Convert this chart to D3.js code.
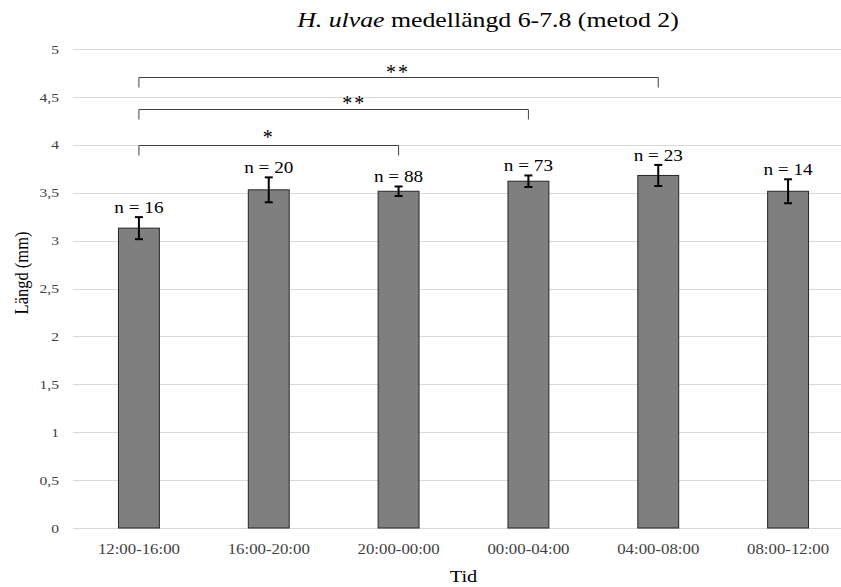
<!DOCTYPE html>
<html>
<head>
<meta charset="utf-8">
<title>H. ulvae medellängd</title>
<script src="https://d3js.org/d3.v7.min.js"></script>
<style>
  body { margin: 0; background: #fff; }
</style>
</head>
<body>
<svg width="841" height="587" id="mainsvg"></svg>
<script>
// data
const categories = ['12:00-16:00', '16:00-20:00', '20:00-00:00', '00:00-04:00', '04:00-08:00', '08:00-12:00'];
const means = [3.13, 3.53, 3.515, 3.62, 3.68, 3.515];
const errors = [0.115, 0.13, 0.05, 0.06, 0.11, 0.125];
const counts = [16, 20, 88, 73, 23, 14];
const yTicks = [0, 0.5, 1, 1.5, 2, 2.5, 3, 3.5, 4, 4.5, 5];
// significance brackets: from / to category index, line height (mm), label, label height (mm), label position along bracket
const brFrom = [0, 0, 0];
const brTo = [2, 3, 4];
const brLevel = [4.0, 4.37, 4.71];
const brLabel = ['*', '**', '**'];
const brLabelLevel = [4.12, 4.48, 4.80];
const brLabelPos = [0.5, 0.55, 0.497];

const FONT = '"Liberation Serif", "Times New Roman", Times, serif';
const SX = 1.2; // the source text is a little wider than it is tall
const svg = d3.select('svg').attr('font-family', FONT);
const margin = {top: 49, left: 74, bottom: 59};
const height = +svg.attr('height');

const x = d3.scaleBand().domain(categories).range([margin.left, 853]).paddingInner(0.685).paddingOuter(0.3425);
const y = d3.scaleLinear().domain([0, 5]).range([height - margin.bottom, margin.top]);

function label(g, px, py, txt, size) {
  return g.append('text')
    .attr('transform', `translate(${px},${py}) scale(${SX},1)`)
    .attr('text-anchor', 'middle').attr('font-size', size).attr('fill', '#000')
    .text(txt);
}

// grid
svg.append('g').selectAll('line').data(yTicks).join('line')
  .attr('x1', 73).attr('x2', 841)
  .attr('y1', d => Math.round(y(d)) + 0.5).attr('y2', d => Math.round(y(d)) + 0.5)
  .attr('stroke', '#d9d9d9').attr('stroke-width', 1);

// y axis labels
const yAxis = d3.axisLeft(y).tickValues(yTicks).tickSize(0).tickPadding(0)
  .tickFormat(d => String(d).replace('.', ','));
const ya = svg.append('g').attr('transform', 'translate(59,0)').call(yAxis).attr('font-family', FONT);
ya.select('.domain').remove();
ya.selectAll('text').attr('font-size', 13).attr('fill', '#404040')
  .attr('transform', `scale(${SX},1)`);

// x axis labels
const xAxis = d3.axisBottom(x).tickSize(0).tickPadding(16);
const xa = svg.append('g').attr('transform', 'translate(0,' + y(0) + ')').call(xAxis).attr('font-family', FONT);
xa.select('.domain').remove();
xa.selectAll('text').attr('font-size', 14).attr('fill', '#404040')
  .attr('transform', `scale(${SX},1)`);

// bars
const rows = categories.map((c, i) => ({cat: c, v: means[i], e: errors[i], n: counts[i]}));
svg.append('g').selectAll('rect').data(rows).join('rect')
  .attr('x', d => x(d.cat)).attr('width', x.bandwidth())
  .attr('y', d => y(d.v)).attr('height', d => y(0) - y(d.v))
  .attr('fill', '#7f7f7f').attr('stroke', '#262626').attr('stroke-width', 1);

// error bars
const eb = svg.append('g').attr('stroke', '#000').attr('stroke-width', 2);
rows.forEach(d => {
  const cx = x(d.cat) + x.bandwidth() / 2;
  eb.append('line').attr('x1', cx).attr('x2', cx).attr('y1', y(d.v + d.e)).attr('y2', y(d.v - d.e));
  eb.append('line').attr('x1', cx - 4).attr('x2', cx + 4).attr('y1', y(d.v + d.e)).attr('y2', y(d.v + d.e));
  eb.append('line').attr('x1', cx - 4).attr('x2', cx + 4).attr('y1', y(d.v - d.e)).attr('y2', y(d.v - d.e));
});

// n labels
const nl = svg.append('g');
rows.forEach(d => {
  label(nl, x(d.cat) + x.bandwidth() / 2, y(d.v + d.e) - 4, 'n = ' + d.n, 16);
});

// significance brackets
const br = svg.append('g');
brFrom.forEach((f, i) => {
  const x1 = x(categories[f]) + x.bandwidth() / 2;
  const x2 = x(categories[brTo[i]]) + x.bandwidth() / 2;
  const yy = Math.round(y(brLevel[i])) + 0.5;
  br.append('path')
    .attr('d', `M${x1},${yy + 10}V${yy}H${x2}V${yy + 10}`)
    .attr('fill', 'none').attr('stroke', '#404040').attr('stroke-width', 1);
  br.append('text')
    .attr('x', x1 + (x2 - x1) * brLabelPos[i]).attr('y', y(brLabelLevel[i]) + 11)
    .attr('text-anchor', 'middle').attr('font-size', 20).attr('fill', '#000')
    .attr('letter-spacing', 2)
    .attr('dx', brLabel[i].length > 1 ? 1 : 0)
    .text(brLabel[i]);
});

// title
const title = label(svg, 488, 27, '', 21.5);
title.append('tspan').attr('font-style', 'italic').text('H. ulvae');
title.append('tspan').text(' medellängd 6-7.8 (metod 2)');

// axis titles
svg.append('text').attr('transform', 'translate(28,273) rotate(-90) scale(1,' + SX + ')')
  .attr('text-anchor', 'middle').attr('font-size', 16.5).attr('fill', '#000').text('Längd (mm)');
label(svg, x(categories[2]) + x.step() / 2 + x.bandwidth() / 2, 582, 'Tid', 17);
</script>
</body>
</html>
